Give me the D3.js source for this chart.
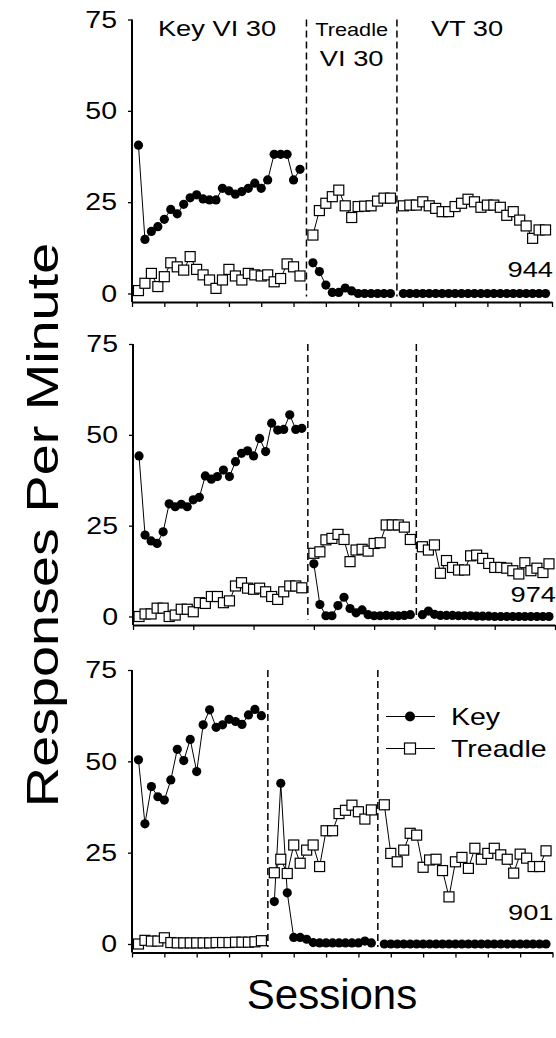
<!DOCTYPE html>
<html>
<head>
<meta charset="utf-8">
<script src="https://cdn.jsdelivr.net/npm/d3@7"></script>
<style>
  html, body { margin: 0; padding: 0; background: #fff; }
  svg { display: block; }
  text { font-family: "Liberation Sans", Arial, Helvetica, sans-serif; fill: #000; }
</style>
</head>
<body>
<svg id="chart" width="556" height="1038"></svg>
<script>
// ---- Subject 944 ----
const key944Key     = [40.6,14.8,17.0,18.3,20.3,23.0,21.8,24.4,26.2,27.0,25.9,25.6,25.6,28.8,28.1,27.2,27.9,28.8,30.2,28.8,31.1,38.1,38.1,38.1,31.1,34.0];
const treadle944Key = [0.8,2.8,5.5,1.9,4.6,8.4,7.3,6.4,10.1,6.6,5.1,3.7,1.4,3.7,6.6,4.8,3.7,5.5,5.1,4.8,5.1,3.2,4.1,8.1,7.3,4.8];
const key944Treadle     = [8.4,6.0,2.3,0.3,0.3,1.5,0.7,0,0,0,0,0,0];
const treadle944Treadle = [16.0,22.7,24.7,26.5,28.3,24.0,20.8,23.8,23.9,24.0,25.3,26.1,26.1];
const key944VT     = [0,0,0,0,0,0,0,0,0,0,0,0,0,0,0,0,0,0,0,0,0,0,0];
const treadle944VT = [24.0,24.2,24.2,25.1,24.0,23.3,22.4,22.4,23.8,24.7,25.8,25.1,23.6,24.2,24.2,23.6,21.4,22.4,20.1,18.5,15.1,17.4,17.4];

// ---- Subject 974 ----
const key974Key     = [44.2,22.4,20.8,20.1,23.3,31.0,30.2,30.9,30.2,32.1,32.8,38.7,37.8,38.5,40.3,38.5,42.6,44.9,45.6,44.2,49.0,45.4,53.2,51.3,51.5,55.5,51.5,51.8];
const treadle974Key = [0,0.7,0.7,2.3,2.3,0,0.4,2.0,2.0,1.3,3.8,3.6,5.5,5.5,3.8,4.3,8.4,9.3,7.8,7.5,7.8,6.8,5.5,4.7,6.8,8.4,8.4,7.9];
const key974Treadle     = [14.5,3.3,0.2,0.2,3.0,5.3,2.2,1.0,1.8,0.5,0.2,0.2,0.3,0.2,0.2,0.3,0.5];
const treadle974Treadle = [17.4,17.8,21.1,21.5,22.6,21.2,15.1,18.3,18.5,18.0,20.1,20.3,25.2,25.2,25.2,24.6,21.2];
const key974VT     = [0.5,1.5,0.6,0.3,0.3,0.3,0.2,0.2,0.2,0.1,0.1,0.1,0,0,0,0,0,0,0,0,0,0];
const treadle974VT = [19.2,18.3,19.7,11.9,15.4,13.5,12.8,12.8,16.7,16.9,16.0,14.6,13.5,13.5,13.3,12.6,11.7,14.8,12.6,13.3,12.1,14.5];

// ---- Subject 901 ----
const key901Key     = [50.4,32.9,43.1,40.3,39.4,44.9,53.3,50.2,56.0,47.2,60.0,64.1,59.3,60.0,61.5,60.9,60.1,62.7,64.2,62.5];
const treadle901Key = [0,1.0,0.8,0.8,1.7,0.4,0.3,0.3,0.3,0.3,0.3,0.3,0.4,0.4,0.4,0.5,0.5,0.5,0.6,0.9];
const key901Treadle     = [11.6,44.0,14.0,1.8,1.8,1.3,0.4,0.3,0.3,0.3,0.3,0.3,0.3,0.3,0.8,0.3];
const treadle901Treadle = [19.5,23.2,19.3,27.1,22.1,25.7,27.1,21.2,31.0,31.0,35.7,36.6,38.0,36.2,34.2,36.7];
const key901VT     = [0,0,0,0,0,0,0,0,0,0,0,0,0,0,0,0,0,0,0,0,0,0,0,0,0,0];
const treadle901VT = [38.1,24.8,22.5,25.7,30.3,29.8,21.0,23.0,23.2,20.1,12.9,22.5,23.7,20.7,26.2,23.2,24.8,26.2,24.4,23.2,19.4,24.6,23.5,21.2,21.2,25.5];

// Session on which each phase starts, and where the condition-change lines sit
const phaseStarts944 = [1, 28, 42];
const phaseStarts974 = [1, 30, 48];
const phaseStarts901 = [1, 22, 39];
const changeLines944 = [27, 41];
const changeLines974 = [29, 47];
const changeLines901 = [21, 38];
const sessionMax = [65, 70, 65];
const sessionTickStep = [5, 10, 5];

const yTicks = [0, 25, 50, 75];
const subjects = ["944", "974", "901"];
const phaseNames = ["Key VI 30", "Treadle", "VI 30", "VT 30"];
const legendNames = ["Key", "Treadle"];
const xTitle = "Sessions";
const yTitle = "Responses Per Minute";

// ---- layout ----
const SX = 1.24;             // horizontal stretch of the lettering
const panelLayout = [
  { x0: 132, x1: 552, yTop: 19.5, yZero: 293.5 },
  { x0: 133, x1: 555, yTop: 344,  yZero: 616.5 },
  { x0: 132, x1: 552.5, yTop: 670, yZero: 944 }
];
const axisDrop = 8.5;

const panels = [
  { keys: [key944Key, key944Treadle, key944VT], treadles: [treadle944Key, treadle944Treadle, treadle944VT], starts: phaseStarts944, lines: changeLines944 },
  { keys: [key974Key, key974Treadle, key974VT], treadles: [treadle974Key, treadle974Treadle, treadle974VT], starts: phaseStarts974, lines: changeLines974 },
  { keys: [key901Key, key901Treadle, key901VT], treadles: [treadle901Key, treadle901Treadle, treadle901VT], starts: phaseStarts901, lines: changeLines901 }
];

const svg = d3.select("#chart");

function label(g, x, y, str, size, anchor, sx) {
  return g.append("text")
    .attr("transform", `translate(${x},${y}) scale(${sx || SX},1)`)
    .attr("text-anchor", anchor || "start")
    .style("font-size", size + "px")
    .text(str);
}

const line = d3.line();

panels.forEach((p, i) => {
  const L = panelLayout[i];
  const g = svg.append("g");
  const x = d3.scaleLinear().domain([0, sessionMax[i]]).range([L.x0, L.x1]);
  const y = d3.scaleLinear().domain([0, 75]).range([L.yZero, L.yTop]);
  const axisY = L.yZero + axisDrop;

  // x axis
  const xAxis = d3.axisBottom(x)
    .tickValues(d3.range(0, sessionMax[i] + 1, sessionTickStep[i]))
    .tickFormat("")
    .tickSize(5)
    .tickSizeOuter(0);
  const xa = g.append("g").attr("transform", `translate(0,${axisY})`).call(xAxis);
  xa.select(".domain").attr("stroke-width", 2);
  xa.selectAll(".tick line").attr("stroke-width", 1.3);

  // y axis
  const yAxis = d3.axisLeft(y).tickValues(yTicks).tickFormat("").tickSize(4).tickSizeOuter(0);
  const ya = g.append("g").attr("transform", `translate(${L.x0},0)`).call(yAxis);
  ya.select(".domain").remove();
  ya.selectAll(".tick line").attr("stroke-width", 1.3);
  g.append("line")
    .attr("x1", L.x0).attr("x2", L.x0)
    .attr("y1", y(75)).attr("y2", axisY)
    .attr("stroke", "#000").attr("stroke-width", 2);
  yTicks.forEach(t => {
    label(g, L.x0 - 15, y(t), String(t), 23, "end").attr("dy", "0.36em");
  });

  // condition-change lines
  p.lines.forEach(s => {
    g.append("line")
      .attr("x1", x(s)).attr("x2", x(s))
      .attr("y1", y(75)).attr("y2", y(0) + 3)
      .attr("stroke", "#000").attr("stroke-width", 1.5)
      .attr("stroke-dasharray", "7,4");
  });

  // series, one segment per phase
  const phases = [0, 1, 2].map(k => ({
    key: p.keys[k].map((v, j) => [x(p.starts[k] + j), y(v)]),
    treadle: p.treadles[k].map((v, j) => [x(p.starts[k] + j), y(v)])
  }));

  phases.forEach(ph => {
    g.append("path").attr("d", line(ph.treadle)).attr("fill", "none").attr("stroke", "#000").attr("stroke-width", 1);
    g.append("path").attr("d", line(ph.key)).attr("fill", "none").attr("stroke", "#000").attr("stroke-width", 1);
  });
  phases.forEach(ph => {
    g.append("g").selectAll("rect").data(ph.treadle).join("rect")
      .attr("x", d => d[0] - 5).attr("y", d => d[1] - 5)
      .attr("width", 10).attr("height", 10)
      .attr("fill", "#fff").attr("stroke", "#000").attr("stroke-width", 1.2);
  });
  phases.forEach(ph => {
    g.append("g").selectAll("circle").data(ph.key).join("circle")
      .attr("cx", d => d[0]).attr("cy", d => d[1]).attr("r", 4.6)
      .attr("fill", "#000");
  });

  // subject number
  label(g, L.x1 + 1, i === 0 ? 276.5 : i === 1 ? 601.5 : 920, subjects[i], 22, "end");

  // condition names over the top panel
  if (i === 0) {
    const mid2 = (x(p.lines[0]) + x(p.lines[1])) / 2;
    label(g, 217, 36, phaseNames[0], 22, "middle");
    label(g, mid2, 36, phaseNames[1], 17.5, "middle");
    label(g, mid2, 66, phaseNames[2], 22, "middle");
    label(g, 467, 36, phaseNames[3], 22, "middle");
  }

  // legend in the bottom panel
  if (i === 2) {
    const lx = 386, lx2 = 435, mx = 410;
    const ly1 = 716.5, ly2 = 748.5;
    g.append("line").attr("x1", lx).attr("x2", lx2).attr("y1", ly1).attr("y2", ly1).attr("stroke", "#000").attr("stroke-width", 1.2);
    g.append("circle").attr("cx", mx).attr("cy", ly1).attr("r", 5).attr("fill", "#000");
    g.append("line").attr("x1", lx).attr("x2", lx2).attr("y1", ly2).attr("y2", ly2).attr("stroke", "#000").attr("stroke-width", 1.2);
    g.append("rect").attr("x", mx - 5.5).attr("y", ly2 - 5.5).attr("width", 11).attr("height", 11)
      .attr("fill", "#fff").attr("stroke", "#000").attr("stroke-width", 1.2);
    label(g, 451, ly1 + 8.5, legendNames[0], 23, "start");
    label(g, 451, ly2 + 8.5, legendNames[1], 23, "start");
  }
});

// axis titles
label(svg, 332, 1009, xTitle, 42, "middle", 1.0);
svg.append("text")
  .attr("transform", `translate(58,525) rotate(-90) scale(${SX},1)`)
  .attr("text-anchor", "middle")
  .style("font-size", "45px")
  .text(yTitle);
</script>
</body>
</html>
